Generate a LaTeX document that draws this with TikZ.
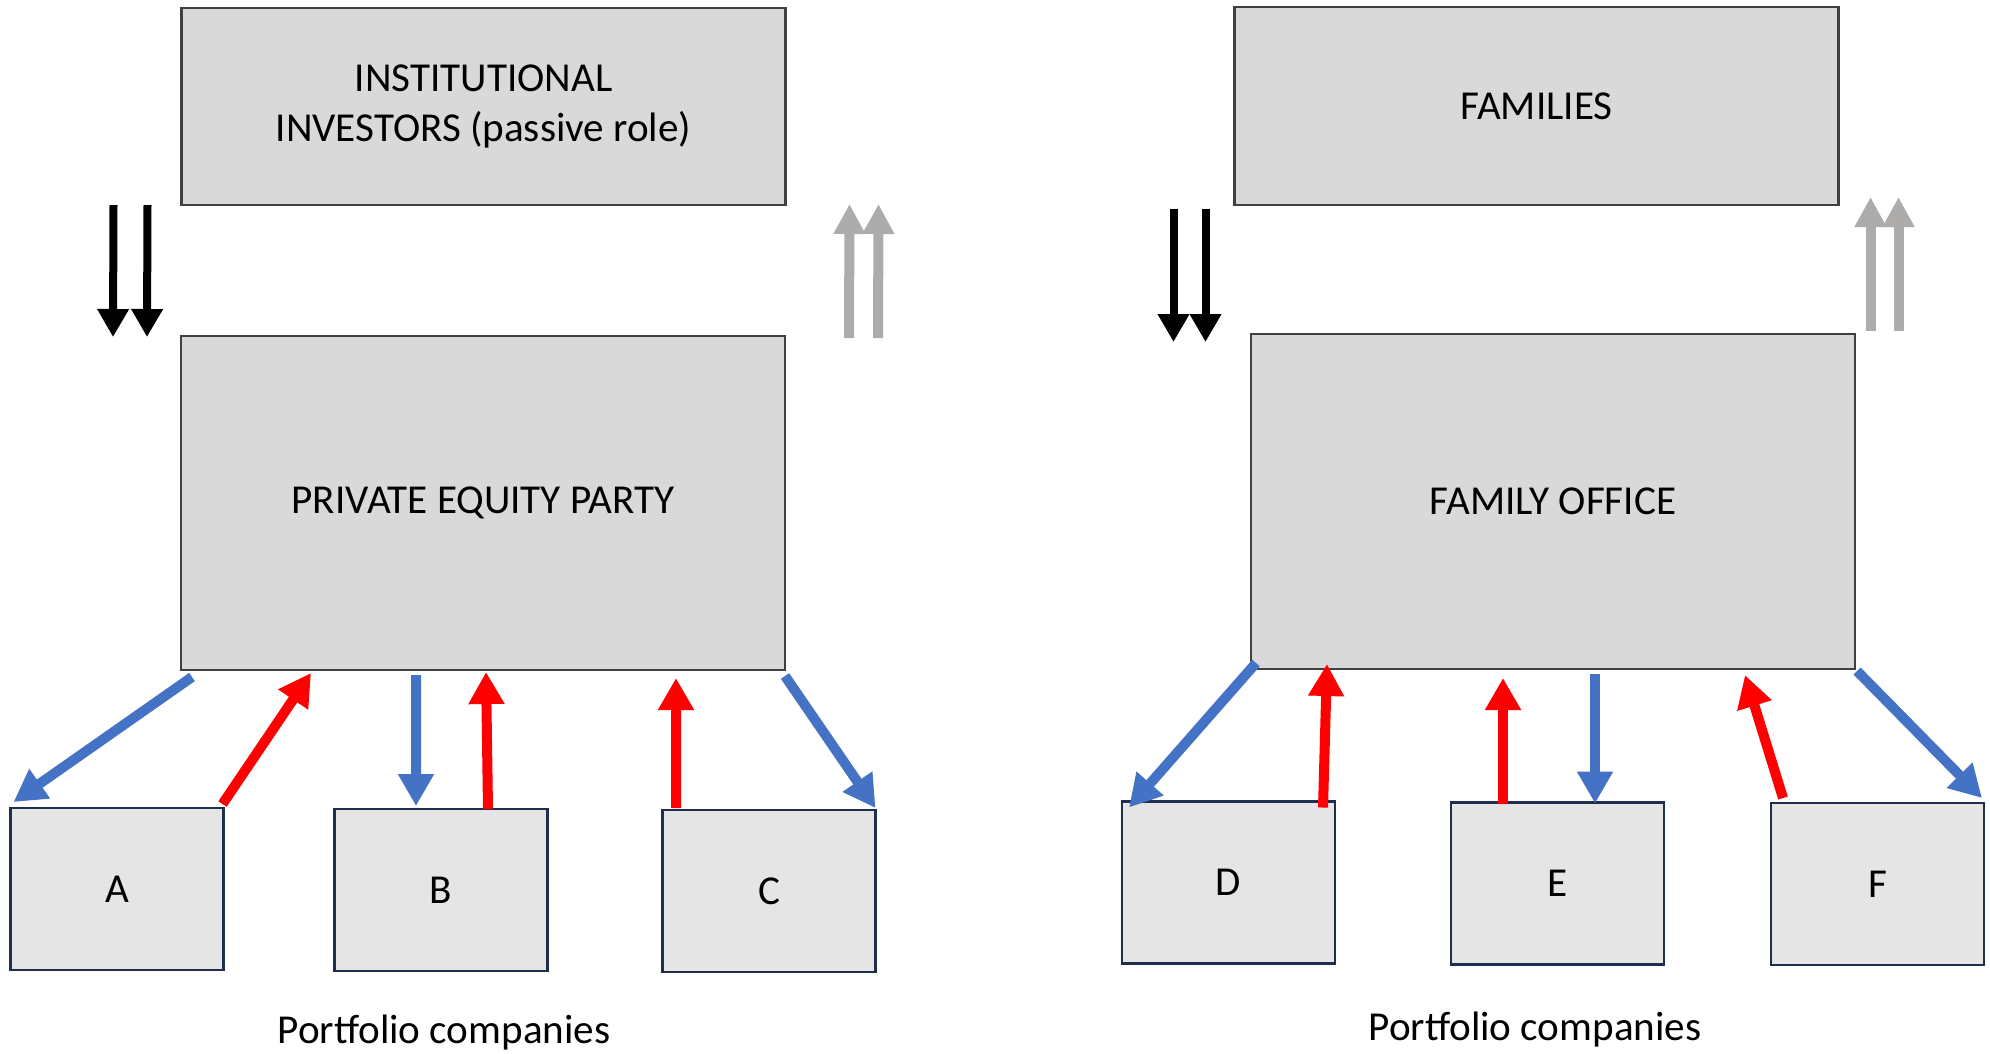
\documentclass[tikz,border=0pt]{standalone}
\usepackage{fontspec}
\setmainfont{Carlito}
\usepackage{tikz}
\usetikzlibrary{positioning}
\usetikzlibrary{calc,arrows.meta}

\definecolor{arrowblue}{HTML}{4472C4}
\definecolor{arrowred}{HTML}{FF0000}
\definecolor{arrowgray}{HTML}{AEABAB}
\definecolor{firmline}{HTML}{1F2D4F}
\definecolor{boxline}{HTML}{404040}

\begin{document}
\begin{tikzpicture}[
    bigbox/.style={draw=boxline, line width=0.8pt, fill=black!15, inner sep=0pt, outer sep=0pt,
        minimum width=6.04cm, align=center, font=\fontsize{11.7}{14.2}\selectfont},
    firmbox/.style={draw=firmline, line width=0.8pt, fill=black!10, inner sep=0pt, outer sep=0pt,
        minimum width=2.13cm, minimum height=1.62cm, font=\fontsize{11.7}{14.2}\selectfont},
    caption/.style={anchor=base, font=\fontsize{11.7}{14.2}\selectfont},
    bluearrow/.style={draw=arrowblue, line width=0.1cm, -{Triangle[length=0.32cm,width=0.34cm]}},
    redarrow/.style={draw=arrowred, line width=0.1cm, -{Triangle[length=0.32cm,width=0.34cm]}},
    moneyin/.style={draw=black, line width=0.08cm, -{Triangle[length=0.28cm,width=0.3cm]}},
    moneyback/.style={draw=arrowgray, line width=0.1cm, -{Triangle[length=0.3cm,width=0.3cm]}}
]
    \useasboundingbox (0,0) rectangle (19.9,-10.53); % page size

    % left: private equity
    \node[bigbox, minimum height=1.97cm] (inst) at (4.835,-1.065) {INSTITUTIONAL\\INVESTORS (passive role)};
    \node[bigbox, minimum height=3.34cm] (pe) at (4.83,-5.03) {PRIVATE EQUITY PARTY};

    % right: family office
    \node[bigbox, minimum height=1.98cm] (fam) at (15.365,-1.06) {FAMILIES};
    \node[bigbox, minimum height=3.35cm] (fo) at (15.53,-5.015) {FAMILY OFFICE};

    % portfolio companies
    \foreach \firm/\x/\y in {A/1.17/-8.89, B/4.41/-8.90, C/7.69/-8.91, D/12.285/-8.825, E/15.575/-8.835, F/18.775/-8.84}{
        \node[firmbox] (\firm) at (\x,\y) {\firm};
    }
    \node[caption] (capL) at (4.44,-10.43) {Portfolio companies};
    \node[caption] (capR) at (15.35,-10.40) {Portfolio companies};

    % capital in and out
    \foreach \dx in {-0.68,-0.34}{
        \draw[moneyin] ($(inst.south west)+(\dx,0)$) -- ($(pe.north west)+(\dx,-0.01)$);
    }
    \foreach \dx in {0.64,0.93}{
        \draw[moneyback] ($(pe.north east)+(\dx,-0.02)$) -- ($(inst.south east)+(\dx,0.01)$);
    }
    \foreach \dx in {-0.61,-0.29}{
        \draw[moneyin] ($(fam.south west)+(\dx,-0.04)$) -- ($(fam.south west |- fo.north)+(\dx,-0.08)$);
    }
    \foreach \dx in {0.32,0.60}{
        \draw[moneyback] ($(fam.south east |- fo.north)+(\dx,0.03)$) -- ($(fam.south east)+(\dx,0.08)$);
    }

    % left side flows
    \draw[bluearrow] ($(pe.south west)+(0.11,-0.07)$) -- ($(A.north west)+(0.03,0.06)$);
    \draw[redarrow] ($(A.north east)+(-0.01,0.04)$) -- ($(pe.south west)+(1.30,-0.03)$);
    \draw[bluearrow] ($(pe.south)+(-0.67,-0.05)$) -- ($(B.north)+(-0.25,0.03)$);
    \draw[redarrow] ($(B.north)+(0.47,0)$) -- ($(pe.south)+(0.03,-0.02)$);
    \draw[redarrow] ($(C.north)+(-0.93,0.02)$) -- ($(pe.south)+(1.93,-0.08)$);
    \draw[bluearrow] ($(pe.south east)+(0,-0.06)$) -- ($(C.north east)+(0,0.02)$);

    % right side flows
    \draw[bluearrow] ($(fo.south west)+(0.05,0.06)$) -- ($(D.north west)+(0.07,-0.06)$);
    \draw[redarrow] ($(D.north east)+(-0.12,-0.06)$) -- ($(fo.south west)+(0.76,0.05)$);
    \draw[redarrow] ($(E.north)+(-0.545,-0.01)$) -- ($(fo.south)+(-0.50,-0.09)$);
    \draw[bluearrow] ($(fo.south)+(0.42,-0.05)$) -- ($(E.north)+(0.375,-0.01)$);
    \draw[redarrow] ($(F.north west)+(0.12,0.05)$) -- ($(fo.south east)+(-1.10,-0.06)$);
    \draw[bluearrow] ($(fo.south east)+(0.02,-0.02)$) -- ($(F.north east)+(-0.02,0.05)$);
\end{tikzpicture}
\end{document}
